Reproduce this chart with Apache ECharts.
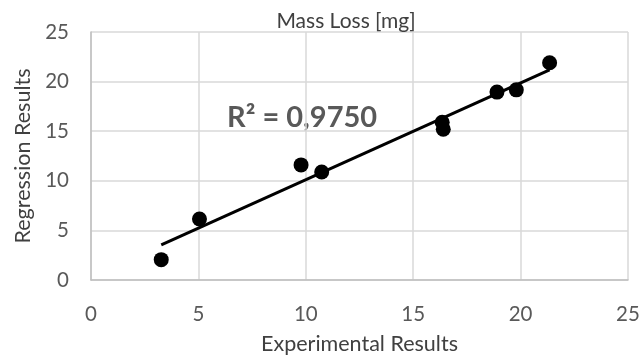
<!DOCTYPE html>
<html>
<head>
<meta charset="utf-8">
<script src="https://cdn.jsdelivr.net/npm/echarts@6/dist/echarts.min.js"></script>
<style>
  html, body { margin: 0; padding: 0; background: #fff; }
  #chart { width: 642px; height: 358px; }
</style>
</head>
<body>
<div id="chart"></div>
<script>
// Measured mass loss [mg]: experimental vs. regression model
const experimental = [3.27, 5.05, 9.78, 10.74, 16.35, 16.40, 18.90, 19.80, 21.35];
const regression   = [2.05, 6.15, 11.60, 10.88, 15.90, 15.20, 18.94, 19.17, 21.90];
const axisTicks = [0, 5, 10, 15, 20, 25];
const titleText = 'Mass Loss [mg]';
const xName = 'Experimental Results';
const yName = 'Regression Results';
const rSquaredText = 'R² = 0,9750';

// Least-squares linear trendline across the measured range
function linearFit(xs, ys) {
  const n = xs.length;
  const mx = xs.reduce((a, b) => a + b, 0) / n;
  const my = ys.reduce((a, b) => a + b, 0) / n;
  let sxy = 0, sxx = 0;
  for (let i = 0; i < n; i++) {
    sxy += (xs[i] - mx) * (ys[i] - my);
    sxx += (xs[i] - mx) * (xs[i] - mx);
  }
  const slope = sxy / sxx;
  return { slope, intercept: my - slope * mx };
}
const fit = linearFit(experimental, regression);
const xMin = Math.min(...experimental), xMax = Math.max(...experimental);
const trend = [
  [xMin, fit.intercept + fit.slope * xMin],
  [xMax, fit.intercept + fit.slope * xMax]
];

const font = 'Lato, sans-serif';
const grey = '#595959';
const dark = '#404040';

const chart = echarts.init(document.getElementById('chart'), null, { renderer: 'canvas' });
chart.setOption({
  animation: false,
  backgroundColor: '#fff',
  title: {
    text: titleText,
    left: 341, top: 6, textAlign: 'center',
    textStyle: { fontFamily: font, fontSize: 21, fontWeight: 'normal', color: dark }
  },
  grid: { left: 91, right: 14, top: 32, bottom: 78, containLabel: false, outerBoundsMode: 'none' },
  xAxis: {
    type: 'value', min: axisTicks[0], max: axisTicks[axisTicks.length - 1], interval: 5,
    name: xName, nameLocation: 'middle', nameGap: 53,
    nameTextStyle: { fontFamily: font, fontSize: 21.5, color: dark },
    axisLine: { lineStyle: { color: '#bfbfbf', width: 1.5 } },
    axisTick: { show: false },
    axisLabel: { fontFamily: font, fontSize: 20.5, color: grey, margin: 24 },
    splitLine: { lineStyle: { color: '#d9d9d9', width: 1.5 } }
  },
  yAxis: {
    type: 'value', min: axisTicks[0], max: axisTicks[axisTicks.length - 1], interval: 5,
    name: yName, nameLocation: 'middle', nameGap: 56, nameRotate: 90,
    nameTextStyle: { fontFamily: font, fontSize: 21.5, color: dark },
    axisLine: { show: true, lineStyle: { color: '#bfbfbf', width: 1.5 } },
    axisTick: { show: false },
    axisLabel: { fontFamily: font, fontSize: 20.5, color: grey, margin: 22 },
    splitLine: { lineStyle: { color: '#d9d9d9', width: 1.5 } }
  },
  series: [
    {
      type: 'scatter',
      data: experimental.map((x, i) => [x, regression[i]]),
      symbolSize: 15,
      itemStyle: { color: '#000', opacity: 1 },
      z: 3
    },
    {
      type: 'line',
      data: trend,
      symbol: 'none',
      lineStyle: { color: '#000', width: 3 },
      z: 2
    }
  ],
  graphic: [{
    type: 'text',
    left: 227, top: 103,
    style: {
      text: rSquaredText,
      font: 'bold 29px ' + font,
      fill: grey
    }
  }]
});
</script>
</body>
</html>
